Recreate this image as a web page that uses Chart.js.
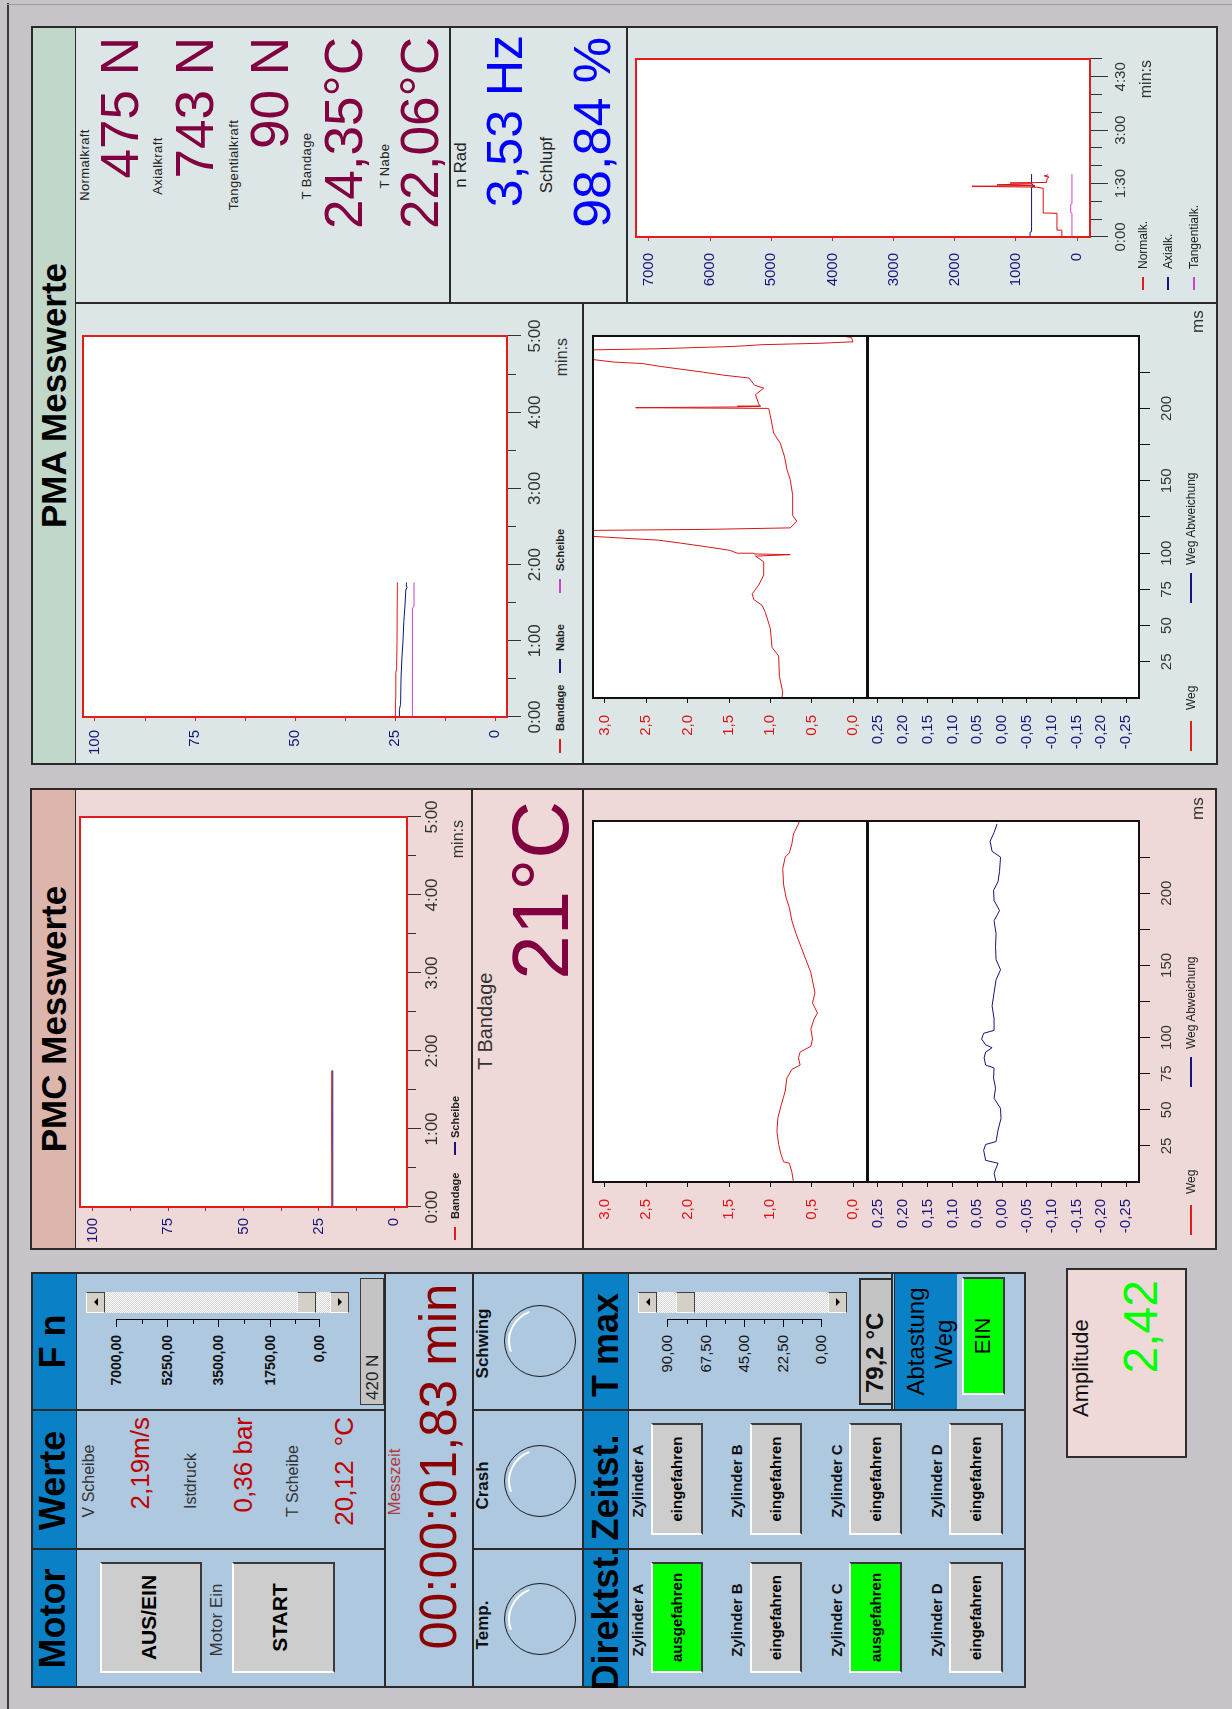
<!DOCTYPE html>
<html><head><meta charset="utf-8">
<script src="https://cdn.jsdelivr.net/npm/chart.js@4.4.1/dist/chart.umd.min.js"></script>
<style>
html,body{margin:0;padding:0;width:1232px;height:1709px;overflow:hidden;background:#c6c4c9;}
#root{position:absolute;left:0;top:0;width:1709px;height:1232px;transform-origin:0 0;transform:translate(0,1709px) rotate(-90deg);background:#c6c4c9;font-family:"Liberation Sans",Arial,sans-serif;color:#1e1e1e;overflow:hidden;}
#root div{position:absolute;box-sizing:border-box;}
#root canvas{position:absolute;}
</style></head><body><div id="root"></div>
<script>
// ===================== DATA =====================
// PMA temperatures (time in s, value in °C)
const pmaTempBandage = [[0,24.9],[12,24.9],[15,24.8],[35,24.8],[38,24.6],[60,24.5],[85,24.45],[106,24.4]];
const pmaTempNabe    = [[0,23.9],[6,23.9],[10,23.6],[30,23.5],[45,23.3],[60,23.0],[75,22.8],[88,22.5],[100,22.3],[102,22.0],[104,22.2],[106,22.1]];
const pmaTempScheibe = [[0,20.65],[86,20.65],[87,20.25],[106,20.25]];
// PMC temperatures
const pmcTempBandage = [[0,20.7],[30,20.7],[60,20.75],[105,20.7]];
const pmcTempScheibe = [[0,20.35],[105,20.35]];
// PMA forces (time in s, N)
const pmaNormalk     = [[0,250],[11,250],[11.5,330],[40,330],[40.5,555],[82,555],[84,660],[85.5,1720],[86.5,700],[88,1310],[89.5,740],[91,1095],[92,500],[99,490],[101,460],[103,540],[105,470]];
const pmaAxialk      = [[0,770],[8,770],[9,745],[84,745],[86,690],[89,745],[106,745]];
const pmaTangentialk = [[0,85],[40,85],[41,105],[55,105],[56,85],[106,85]];
// PMA Weg (ms, value)
const pmaWeg = [[0,0.86],[4,0.85],[15,0.89],[29,0.90],[35,0.98],[48,1.00],[59,1.06],[64,1.10],[68,1.20],[72,1.22],[78,1.14],[85,1.08],[94,1.08],[98,1.18],[99,0.76],[99.5,1.20],[100,1.40],[102,1.49],[104.6,1.79],[107,2.09],[109,2.35],[110.5,2.81],[111.6,3.14],[113,3.6],[115.5,3.6],[116.5,1.73],[117.5,0.76],[122,0.68],[126,0.73],[140,0.73],[151,0.76],[158,0.80],[167,0.83],[176,0.88],[183,0.96],[195,1.00],[200,1.02],[200.5,2.63],[201,1.40],[201.5,1.12],[203,1.14],[209.5,1.18],[214,1.08],[216,1.19],[221,1.26],[223,1.57],[225,1.81],[229,2.33],[231,2.55],[232,2.89],[233.7,3.14],[235,3.6],[240,3.6],[241.2,2.37],[242.8,1.45],[244,1.10],[245,0.40],[246,0.0],[249,0.02],[250,0.14]];
const pmaWegAbw = [];
// PMC Weg (ms, value)
const pmcWeg = [[0,0.72],[7,0.74],[13,0.77],[14,0.84],[19,0.87],[26,0.90],[35,0.92],[44,0.91],[53,0.87],[63,0.82],[72,0.80],[78,0.74],[81,0.64],[86,0.66],[90,0.64],[94,0.51],[99,0.49],[106,0.51],[113,0.47],[117,0.43],[124,0.49],[131,0.46],[145,0.51],[154,0.57],[163,0.63],[172,0.69],[181,0.74],[190,0.77],[197,0.81],[206,0.84],[217,0.85],[225,0.82],[228,0.77],[234,0.74],[241,0.72],[248,0.66],[250,0.65]];
const pmcWegAbw = [[0,0.012],[6,0.016],[13,0.008],[15,0.033],[22,0.037],[26,0.033],[28,0.012],[36,0.008],[44,0.002],[51,0.003],[58,0.016],[65,0.013],[72,0.017],[79,0.016],[81,0.033],[86,0.036],[90,0.033],[93,0.020],[95,0.033],[99,0.041],[103,0.037],[105,0.016],[113,0.016],[122,0.020],[131,0.016],[140,0.012],[147,0.003],[154,0.012],[163,0.013],[172,0.012],[181,0.016],[188,0.005],[195,0.016],[202,0.017],[208,0.008],[215,0.005],[225,0.003],[229,0.020],[236,0.024],[242,0.016],[248,0.010]];

// tick values / labels
const timeTicks        = [0,30,60,90,120,150,180,210,240,270,300];
const timeLabelsTemp   = [0,60,120,180,240,300];
const timeLabelsForce  = [0,90,180,270];
const tempTicks        = [0,12.5,25,37.5,50,62.5,75,87.5,100];
const tempLabels       = [0,25,50,75,100];
const forceTicks       = [0,1000,2000,3000,4000,5000,6000,7000];
const wegTicks         = [0,0.5,1,1.5,2,2.5,3];
const abwTicks         = [-0.25,-0.2,-0.15,-0.1,-0.05,0,0.05,0.1,0.15,0.2,0.25];
const msTicks          = [25,50,75,100,125,150,175,200,225];
const msLabels         = [25,50,75,100,150,200];
const fnScaleLabels    = ['7000,00','5250,00','3500,00','1750,00','0,00'];
const tmaxScaleLabels  = ['90,00','67,50','45,00','22,50','0,00'];

// ===================== HELPERS =====================
const root = document.getElementById('root');
const FONT = '"Liberation Sans", Arial, sans-serif';
function R(l,t,w,h,st){const d=document.createElement('div');d.style.cssText=`left:${l}px;top:${t}px;width:${w}px;height:${h}px;${st||''}`;root.appendChild(d);return d;}
function T(s,u,v,f,al,st){const d=document.createElement('div');const W=900;const left=al==='l'?u:(al==='c'?u-W/2:u-W);
  d.style.cssText=`left:${left}px;top:${(v-0.13*f).toFixed(1)}px;width:${W}px;height:${Math.ceil(f*1.3)}px;font-size:${f}px;line-height:${f}px;white-space:pre;text-align:${al==='l'?'left':al==='c'?'center':'right'};${st||''}`;
  d.textContent=s;root.appendChild(d);return d;}
function L(l,t,w,h,c){return R(l,t,w,h,`background:${c||'#2a2a2a'}`);}
const BEVEL='border:2px solid;border-color:#ffffff #3a3a3a #3a3a3a #ffffff;';
const BEV1='border:1px solid;border-color:#ffffff #404040 #404040 #ffffff;';

// ===================== CHART FACTORY =====================
const framePlugin={id:'frame',
  beforeDraw(ch){const c=ch.ctx,r=ch.chartArea;c.save();c.fillStyle='#ffffff';c.fillRect(r.left,r.top,r.right-r.left,r.bottom-r.top);c.restore();},
  afterDraw(ch,a,o){const c=ch.ctx,r=ch.chartArea;c.save();
    (o.major||[]).forEach(m=>{const s=ch.scales.x;c.strokeStyle=m.color;c.lineWidth=1;c.beginPath();
      m.values.forEach(v=>{const p=Math.round(s.getPixelForValue(v)-0.5)+0.5;c.moveTo(p,r.bottom);c.lineTo(p,r.bottom+m.len);});c.stroke();});
    c.strokeStyle=o.color;c.lineWidth=o.width;c.strokeRect(r.left,r.top,r.right-r.left,r.bottom-r.top);c.restore();}};
Chart.register(framePlugin);

function mkChart(box,plot,cfg){
  const W=box.r-box.l,H=box.b-box.t;
  const cv=document.createElement('canvas');cv.width=W;cv.height=H;
  cv.style.cssText=`left:${box.l}px;top:${box.t}px;width:${W}px;height:${H}px;`;
  root.appendChild(cv);
  const yW=plot.l-box.l,xH=box.b-plot.b;const x=cfg.x,y=cfg.y;
  return new Chart(cv,{type:'line',
    data:{datasets:cfg.datasets.map(d=>({label:d.label,data:d.data.map(p=>({x:p[0],y:p[1]})),borderColor:d.color,borderWidth:1,pointRadius:0,tension:0,fill:false}))},
    options:{responsive:false,animation:false,devicePixelRatio:1,events:[],parsing:true,
      layout:{padding:{left:0,top:plot.t-box.t,right:box.r-plot.r,bottom:x.hidden?box.b-plot.b:0}},
      plugins:{legend:{display:false},tooltip:{enabled:false},frame:{color:cfg.frame,width:2,major:x.major||[]}},
      scales:{
        x:{type:'linear',min:x.min,max:x.max,display:!x.hidden,
          afterBuildTicks:s=>{s.ticks=x.ticks.map(v=>({value:v}));},
          afterFit:s=>{s.height=x.hidden?0:xH;s.paddingLeft=0;s.paddingRight=0;},
          border:{display:false},
          grid:{drawOnChartArea:false,drawTicks:true,tickLength:x.tl||8,tickColor:x.tc||'#333',tickWidth:1},
          ticks:{autoSkip:false,maxRotation:0,minRotation:0,padding:x.pad||4,color:x.lc||'#333',font:{family:FONT,size:x.fs||15},callback:x.fmt}},
        y:{type:'linear',min:y.min,max:y.max,
          afterBuildTicks:s=>{s.ticks=y.ticks.map(v=>({value:v}));},
          afterFit:s=>{s.width=yW;s.paddingTop=0;s.paddingBottom=0;},
          border:{display:false},
          grid:{drawOnChartArea:false,drawTicks:true,tickLength:y.tl,tickColor:y.tc,tickWidth:1},
          ticks:{autoSkip:false,padding:y.pad,color:y.lc,font:{family:FONT,size:y.fs},callback:y.fmt}}
      }}});
}
const fmtTime=v=>`${Math.floor(v/60)}:${String(v%60).padStart(2,'0')}`;
const RED='#e01c1c',NAVY='#14147a',MAG='#d040d0',MAROON='#800040';

// ===================== FRAME =====================
L(0,7,1706,2,'#3a3a3a');
L(1704,7,1,1225,'#9a9aa0');

// ===================== CONTROL PANEL =====================
R(21,31,416,995,'background:#aec8df');
R(21,31,416,45,'background:#0a80c6');
R(21,583,416,45,'background:#0a80c6');
R(299,894,138,63,'background:#0a80c6');
R(21,31,416,995,'border:2px solid #2a2a2a');
L(21,76,416,1);L(21,384,416,2);L(21,472,416,2);L(21,582,416,2);L(21,628,416,1);
L(159,31,2,354);L(298,31,2,354);L(159,473,2,553);L(298,473,2,553);
L(299,891,138,2);L(299,894,138,1);

const HB='font-weight:bold;color:#000;';
T('Motor',90.5,40,36,'c',HB);T('Werte',228.5,40,36,'c',HB);T('F n',367.5,40,36,'c',HB);
// Motor
R(36,100,111,102,`background:#cdcdcd;${BEVEL}`);T('AUS/EIN',91.5,141,21,'c','font-weight:bold;color:#000;');
T('Motor Ein',89,210,17,'c','color:#333;');
R(36,232,111,103,`background:#cdcdcd;${BEVEL}`);T('START',91.5,272,21,'c','font-weight:bold;color:#000;');
// Werte
const VAL='color:#c00000;';
T('V Scheibe',228,83,16,'c','color:#333;');T('2,19m/s',292,130,26,'r',VAL);
T('Istdruck',228,185,16,'c','color:#333;');T('0,36 bar',292,233,26,'r',VAL);
T('T Scheibe',228,287,16,'c','color:#333;');T('20,12  °C',292,334,26,'r',VAL);
// scrollbars + slider scales
function arrow(cx,cy,up){R(cx-4,cy-2,0,0,`box-sizing:content-box;border-left:4px solid transparent;border-right:4px solid transparent;${up?'border-bottom':'border-top'}:4px solid #000;`);}
function scrollbar(u,v0,v1,th){
  R(u,v0,21,19,`background:#d4d0c8;${BEV1}`);arrow(u+10.5,v0+9.5,true);
  R(u,v0+19,21,v1-v0-38,'background:repeating-conic-gradient(#fbfbfb 0% 25%, #d6d6d6 0% 50%) 0 0/2px 2px;');
  R(u,th,21,19,`background:#d4d0c8;${BEV1}`);
  R(u,v1-19,21,19,`background:#d4d0c8;${BEV1}`);arrow(u+10.5,v1-9.5,false);
}
function sliderScale(vt,labels,st){
  L(389,vt[0],1,vt[vt.length-1]-vt[0]+1,'#000');
  vt.forEach((v,i)=>{L(382,v,8,1,'#000');if(i<vt.length-1){L(385,Math.round((v+vt[i+1])/2),5,1,'#000');}
    T(labels[i],374,v-5,14,'r',st);});
}
scrollbar(396,86,349,297);
sliderScale([116,167,218,270,319],fnScaleLabels,'font-weight:bold;color:#111;');
R(304,360,127,24,'background:#c4c4c4;border:1px solid #3a3a3a;');T('420 N',309,366,17,'l','color:#222;');
// Messzeit
T('Messzeit',227,388,17,'c','color:#b03a3a;');
T('00:00:01,83 min',242.5,420,51,'c','color:#8b0000;');
// Lamps
[['Temp.',84,90],['Crash',223.5,228],['Schwing',365.5,367.5]].forEach(([s,tu,cu])=>{
  T(s,tu,476,17,'c','font-weight:bold;color:#111;');
  R(cu-36,504,72,72,'border:1px solid #1a1a1a;border-radius:50%;');
  R(cu-32,508,64,64,'border-radius:50%;border:2px solid transparent;border-top-color:#ffffff;transform:rotate(25deg);');
});
// Direktst / Zeitst / T max
T('Direktst.',90.5,593,36,'c',HB);T('Zeitst.',221.5,593,36,'c',HB);T('T max',364,593,36,'c',HB);
const cyl=['Zylinder A','Zylinder B','Zylinder C','Zylinder D'];
const cylV=[[632,651,703],[731,750,802],[831,849,902],[931,949,1003]];
const direkt=['ausgefahren','eingefahren','ausgefahren','eingefahren'];
cyl.forEach((c,i)=>{const [lv,b0,b1]=cylV[i];
  T(c,89,lv,15,'c','font-weight:bold;color:#111;');
  const g=direkt[i]==='ausgefahren';
  R(36,b0,111,b1-b0,`background:${g?'#00ff00':'#cdcdcd'};${BEVEL}`);
  T(direkt[i],91.5,(b0+b1)/2-6,15,'c','font-weight:bold;color:#000;');
  T(c,228,lv,15,'c','font-weight:bold;color:#111;');
  R(174,b0,112,b1-b0,`background:#cdcdcd;${BEVEL}`);
  T('eingefahren',230,(b0+b1)/2-6,15,'c','font-weight:bold;color:#000;');
});
scrollbar(396,638,847,676);
sliderScale([667,706,744,783,821],tmaxScaleLabels,'color:#111;font-size:15px;');
R(304,859,127,34,'background:#c4c4c4;border:2px solid #2e2e2e;');T('79,2 °C',316,866,24,'l','font-weight:bold;color:#111;');
T('Abtastung',367.5,907,24,'c','color:#000;');T('Weg',365,935,24,'c','color:#000;');
R(314,962,118,43,`background:#00ff00;${BEVEL}`);T('EIN',373,975,22,'c','color:#000;');

// Amplitude
R(251,1066,190,121,'background:#efd9d8;border:2px solid #2e2e2e;');
T('Amplitude',292,1073,22,'l','color:#111;');T('2,42',429,1123,48,'r','color:#00ff00;');

// ===================== PMC PANEL =====================
R(459,30,462,1187,'background:#efd9d8');
R(459,30,462,45,'background:#dcb5ad');
R(459,30,462,1187,'border:2px solid #2a2a2a');
L(459,75,462,1);L(459,471,462,2);L(459,582,462,2);
T('PMC Messwerte',690,40,35,'c',HB);
T('T Bandage',639,478,20,'l','color:#333;');
T('21°C',908,511,80,'r',`color:${MAROON};`);

// ===================== PMA PANEL =====================
R(944,31,739,1187,'background:#dde6e6');
R(944,31,739,44,'background:#c0d7c9');
R(944,31,739,1187,'border:2px solid #2a2a2a');
L(944,75,739,1);L(1405,75,2,1143);L(944,582,462,2);L(1406,449,277,2);L(1406,626,277,2);
T('PMA Messwerte',1313.5,40,35,'c',HB);
const LB='color:#222;letter-spacing:0.4px;';
const MV=`color:${MAROON};`;
T('Normalkraft',1544,80,13,'c',LB);T('475 N',1672,100,53,'r',MV);
T('Axialkraft',1543,153,13,'c',LB);T('743 N',1672,175,53,'r',MV);
T('Tangentialkraft',1544,229,13,'c',LB);T('90 N',1672,250,53,'r',MV);
T('T Bandage',1543,302,13,'c',LB);T('24,35°C',1672,324,53,'r',MV);
T('T Nabe',1543,380,13,'c',LB);T('22,06°C',1672,400,53,'r',MV);
T('n Rad',1544,454,17,'c','color:#222;');T('3,53 Hz',1674,486,50,'r','color:#0000ff;');
T('Schlupf',1544,540,17,'c','color:#222;');T('98,84 %',1672,573,52,'r','color:#0000ff;');

// ===================== CHARTS =====================
const tempX={min:0,max:300,ticks:timeTicks,tl:9,pad:9,fs:17,tc:'#333',lc:'#333',
  fmt:v=>timeLabelsTemp.includes(v)?fmtTime(v):'',major:[{values:timeLabelsTemp,len:14,color:'#333'}]};
// PMA temperature
mkChart({l:944,t:70,r:1400,b:552},{l:992,t:83,r:1373,b:507},{frame:RED,
  x:tempX,
  y:{min:-3,max:103,ticks:tempTicks,tl:4,pad:9,fs:15,tc:RED,lc:NAVY,fmt:v=>tempLabels.includes(v)?String(v):''},
  datasets:[{label:'Bandage',data:pmaTempBandage,color:RED},{label:'Nabe',data:pmaTempNabe,color:NAVY},{label:'Scheibe',data:pmaTempScheibe,color:MAG}]});
// PMC temperature
mkChart({l:459,t:68,r:918,b:450},{l:502,t:80,r:892,b:407},{frame:RED,
  x:Object.assign({},tempX,{pad:6}),
  y:{min:-4.3,max:104.3,ticks:tempTicks,tl:4,pad:7,fs:15,tc:RED,lc:NAVY,fmt:v=>tempLabels.includes(v)?String(v):''},
  datasets:[{label:'Bandage',data:pmcTempBandage,color:RED},{label:'Scheibe',data:pmcTempScheibe,color:NAVY}]});
// PMA force
mkChart({l:1406,t:620,r:1680,b:1137},{l:1472,t:636,r:1650,b:1090},{frame:RED,
  x:{min:0,max:300,ticks:timeTicks,tl:12,pad:10,fs:15,tc:'#333',lc:'#333',fmt:v=>timeLabelsForce.includes(v)?fmtTime(v):'',major:[{values:timeLabelsForce,len:18,color:'#333'}]},
  y:{min:-210,max:7210,ticks:forceTicks,tl:4,pad:12,fs:15,tc:RED,lc:NAVY,fmt:v=>String(v)},
  datasets:[{label:'Normalk.',data:pmaNormalk,color:'#d81010'},{label:'Axialk.',data:pmaAxialk,color:NAVY},{label:'Tangentialk.',data:pmaTangentialk,color:MAG}]});
// Weg charts
const wegY={min:-0.169,max:3.145,ticks:wegTicks,tl:5,pad:12,fs:15,tc:'#111',lc:'#e01010',fmt:v=>v.toFixed(1).replace('.',',')};
const abwY={min:-0.276,max:0.272,ticks:abwTicks,tl:5,pad:12,fs:15,tc:'#111',lc:NAVY,fmt:v=>v.toFixed(2).replace('.',',')};
const msX={min:0,max:250,ticks:msTicks,tl:11,pad:8,fs:15,tc:'#111',lc:'#333',fmt:v=>msLabels.includes(v)?String(v):''};
[[1011,1373,944,1400,pmaWeg,pmaWegAbw],[527,888,459,918,pmcWeg,pmcWegAbw]].forEach(([pl,pr,bl,br,w,a])=>{
  mkChart({l:bl,t:578,r:br,b:882},{l:pl,t:593,r:pr,b:867},{frame:'#111',
    x:Object.assign({},msX,{hidden:true}),y:wegY,datasets:[{label:'Weg',data:w,color:'#d81818'}]});
  mkChart({l:bl,t:852,r:br,b:1190},{l:pl,t:867,r:pr,b:1139},{frame:'#111',
    x:msX,y:abwY,datasets:[{label:'Weg Abweichung',data:a,color:NAVY}]});
  L(pl,866,pr-pl,3,'#111');
});

// ===================== LEGENDS / UNITS =====================
function leg(items,v,f,st){items.forEach(it=>{L(it.u,Math.round(v+0.36*f)-1,it.len,2,it.c);T(it.t,it.tu,v,f,'l',st);});}
leg([{u:956,len:14,c:RED,t:'Bandage',tu:978},{u:1036,len:14,c:NAVY,t:'Nabe',tu:1058},{u:1116,len:14,c:MAG,t:'Scheibe',tu:1138}],556,11,'font-weight:bold;color:#222;');
leg([{u:469,len:13,c:RED,t:'Bandage',tu:490},{u:554,len:13,c:NAVY,t:'Scheibe',tu:571}],451,11,'font-weight:bold;color:#222;');
leg([{u:1419,len:13,c:RED,t:'Normalk.',tu:1440}],1139,12,'color:#222;');
leg([{u:1419,len:13,c:NAVY,t:'Axialk.',tu:1440}],1164,12,'color:#222;');
leg([{u:1419,len:13,c:MAG,t:'Tangentialk.',tu:1440}],1190,12,'color:#222;');
leg([{u:958,len:30,c:RED,t:'Weg',tu:999},{u:1106,len:30,c:NAVY,t:'Weg Abweichung',tu:1144}],1187,12,'color:#222;');
leg([{u:474,len:30,c:RED,t:'Weg',tu:515},{u:622,len:30,c:NAVY,t:'Weg Abweichung',tu:660}],1187,12,'color:#222;');
T('min:s',1371,556,16,'r','color:#333;');
T('min:s',889,452,16,'r','color:#333;');
T('min:s',1649,1140,16,'r','color:#333;');
T('ms',1376,1191,17,'l','color:#333;');
T('ms',889,1191,17,'l','color:#333;');
</script></body></html>
